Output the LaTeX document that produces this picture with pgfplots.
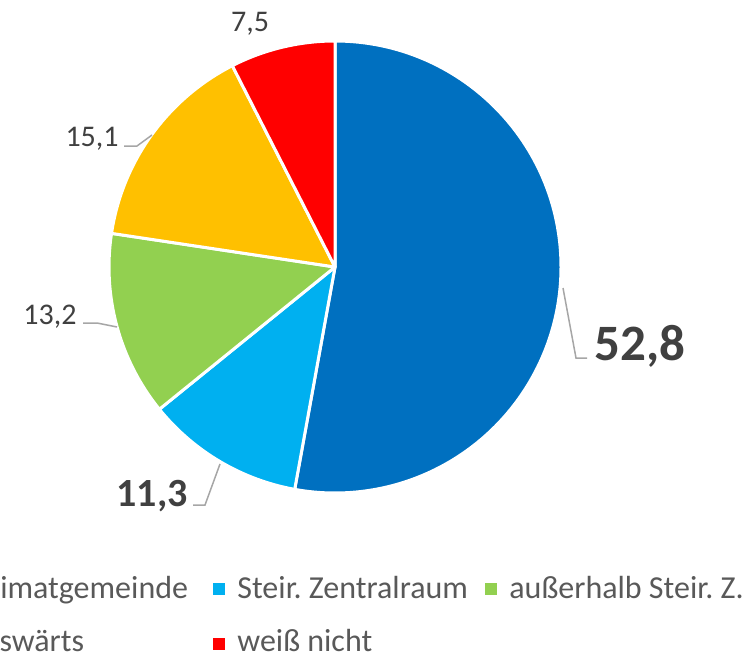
\documentclass[border=0pt]{standalone}
\usepackage{pgfplots}
\pgfplotsset{compat=1.18}
\usepackage{pgfplotstable}
\usepackage{fontspec}
\setmainfont{Carlito}
\frenchspacing

\definecolor{c1}{HTML}{0070C0}
\definecolor{c2}{HTML}{00B0F0}
\definecolor{c3}{HTML}{92D050}
\definecolor{c4}{HTML}{FFC000}
\definecolor{c5}{HTML}{FF0000}
\definecolor{lbl}{HTML}{404040}
\definecolor{leg}{HTML}{595959}
\definecolor{lead}{HTML}{A6A6A6}

% share of answers, clockwise from 12 o'clock
\pgfplotstableread{
value color
52.8  c1
11.3  c2
13.2  c3
15.1  c4
7.5   c5
}\piedata

\begin{document}
\begin{tikzpicture}
\useasboundingbox (0,0) rectangle (377pt,329pt);
\clip (0,0) rectangle (377pt,329pt);
\begin{axis}[
    at={(0,0)}, anchor=south west,
    scale only axis, width=377pt, height=329pt,
    xmin=0, xmax=754, ymin=0, ymax=658, y dir=reverse,
    hide axis, clip=false,
    ]
    % total
    \def\total{0}
    \pgfplotsforeachungrouped \i in {0,...,4}{
        \pgfplotstablegetelem{\i}{value}\of\piedata
        \pgfmathsetmacro\total{\total+\pgfplotsretval}
    }
    % slices
    \def\cum{0}
    \pgfplotsforeachungrouped \i in {0,...,4}{
        \pgfplotstablegetelem{\i}{value}\of\piedata \let\sv\pgfplotsretval
        \pgfplotstablegetelem{\i}{color}\of\piedata \let\sc\pgfplotsretval
        \pgfmathsetmacro\sa{90-\cum/\total*360}
        \pgfmathsetmacro\sb{90-(\cum+\sv)/\total*360}
        \edef\temp{\noexpand\fill[fill=\sc, draw=white, line width=1.5pt, line join=round]
            (axis cs:335,267) -- ++(\sa:113pt) arc[start angle=\sa, end angle=\sb, radius=113pt] -- cycle;}
        \temp
        \pgfmathsetmacro\cum{\cum+\sv}
    }
    % leader lines
    \draw[lead, line width=0.75pt] (axis cs:124,146) -- (axis cs:137,146) -- (axis cs:152,135);
    \draw[lead, line width=0.75pt] (axis cs:83,323) -- (axis cs:97,323) -- (axis cs:117,327);
    \draw[lead, line width=0.75pt] (axis cs:563,288) -- (axis cs:576,358) -- (axis cs:587,358);
    \draw[lead, line width=0.75pt] (axis cs:193,505) -- (axis cs:205,505) -- (axis cs:220,464);
    % data labels
    \node[lbl, inner sep=0, anchor=base, font=\fontsize{15pt}{18pt}\selectfont] at (axis cs:250,32) {7,5};
    \node[lbl, inner sep=0, anchor=base east, font=\fontsize{15pt}{18pt}\selectfont] at (axis cs:119,147) {15,1};
    \node[lbl, inner sep=0, anchor=base east, font=\fontsize{15pt}{18pt}\selectfont] at (axis cs:77,324) {13,2};
    \node[lbl, inner sep=0, anchor=base west, font=\fontsize{25.5pt}{30pt}\selectfont\bfseries] at (axis cs:594,360) {52,8};
    \node[lbl, inner sep=0, anchor=base east, font=\fontsize{20pt}{24pt}\selectfont\bfseries] at (axis cs:188,506) {11,3};
    % legend
    \fill[c1] (axis cs:-59,583) rectangle (axis cs:-47,595);
    \node[leg, inner sep=0, anchor=base west, font=\fontsize{16pt}{19pt}\selectfont] at (axis cs:-36,598) {Heimatgemeinde};
    \fill[c2] (axis cs:213,583) rectangle (axis cs:225,595);
    \node[leg, inner sep=0, anchor=base west, font=\fontsize{16pt}{19pt}\selectfont] at (axis cs:237,598) {Steir. Zentralraum};
    \fill[c3] (axis cs:485,583) rectangle (axis cs:497,595);
    \node[leg, inner sep=0, anchor=base west, font=\fontsize{16pt}{19pt}\selectfont] at (axis cs:509,598) {außerhalb Steir. Z.};
    \fill[c4] (axis cs:-59,638) rectangle (axis cs:-47,650);
    \node[leg, inner sep=0, anchor=base west, font=\fontsize{16pt}{19pt}\selectfont] at (axis cs:-33,651) {auswärts};
    \fill[c5] (axis cs:213,638) rectangle (axis cs:225,650);
    \node[leg, inner sep=0, anchor=base west, font=\fontsize{16pt}{19pt}\selectfont] at (axis cs:237,651) {weiß nicht};
\end{axis}
\end{tikzpicture}
\end{document}
